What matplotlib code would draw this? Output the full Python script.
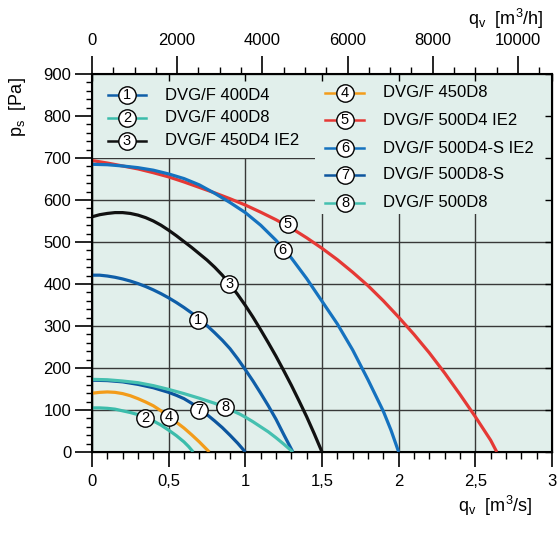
import matplotlib.pyplot as plt
from matplotlib.patches import Rectangle
from matplotlib.ticker import MultipleLocator

plt.rcParams['font.family'] = ['Liberation Sans', 'DejaVu Sans']
plt.rcParams['mathtext.fontset'] = 'custom'
plt.rcParams['mathtext.rm'] = 'Liberation Sans'
plt.rcParams['mathtext.it'] = 'Liberation Sans'

# fan curves, q in m3/s, p in Pa
names = ['DVG/F 400D4', 'DVG/F 400D8', 'DVG/F 450D4 IE2', 'DVG/F 450D8',
         'DVG/F 500D4 IE2', 'DVG/F 500D4-S IE2', 'DVG/F 500D8-S', 'DVG/F 500D8']

q1 = [0, 0.05, 0.1, 0.15, 0.2, 0.25, 0.3, 0.35, 0.4, 0.45, 0.5, 0.55, 0.6, 0.65, 0.7,
      0.75, 0.8, 0.85, 0.9, 0.95, 1.0, 1.05, 1.1, 1.15, 1.2, 1.25, 1.31]
p1 = [421, 421, 419, 416, 412, 407, 401, 394, 386, 377, 367, 356, 344, 331, 316,
      301, 284, 266, 246, 222, 196, 169, 140, 110, 78, 42, 0]

q2 = [0, 0.05, 0.1, 0.15, 0.2, 0.25, 0.3, 0.35, 0.4, 0.45, 0.5, 0.55, 0.6, 0.63, 0.66]
p2 = [105, 105, 104, 102, 98, 94, 89, 82, 74, 64, 52, 39, 24, 13, 0]

q3 = [0, 0.05, 0.1, 0.15, 0.2, 0.25, 0.3, 0.35, 0.4, 0.45, 0.5, 0.55, 0.6, 0.65, 0.7,
      0.75, 0.8, 0.85, 0.9, 0.95, 1.0, 1.05, 1.1, 1.15, 1.2, 1.25, 1.3, 1.35, 1.4,
      1.45, 1.5]
p3 = [560, 565, 568, 570, 570, 568, 564, 558, 550, 540, 528, 515, 501, 487, 472,
      457, 440, 421, 399, 375, 349, 321, 291, 260, 228, 194, 159, 122, 84,
      43, 0]

q4 = [0, 0.05, 0.1, 0.15, 0.2, 0.25, 0.3, 0.35, 0.4, 0.45, 0.5, 0.55, 0.6, 0.65, 0.7, 0.765]
p4 = [140, 142, 143, 142, 139, 134, 127, 119, 110, 98, 86, 71, 57, 41, 24, 0]

q5 = [0, 0.1, 0.2, 0.3, 0.4, 0.5, 0.6, 0.7, 0.8, 0.9, 1.0, 1.1, 1.2, 1.3, 1.4,
      1.5, 1.6, 1.7, 1.8, 1.9, 2.0, 2.1, 2.2, 2.3, 2.4, 2.5, 2.55, 2.6, 2.64]
p5 = [694, 688, 681, 674, 665, 655, 643, 630, 617, 603, 588, 571, 553, 533, 510,
      485, 458, 428, 396, 360, 321, 280, 236, 188, 137, 84, 56, 28, 0]

q6 = [0, 0.1, 0.2, 0.3, 0.4, 0.5, 0.6, 0.7, 0.8, 0.9, 1.0, 1.1, 1.2, 1.3, 1.4,
      1.5, 1.6, 1.7, 1.8, 1.9, 1.95, 2.0]
p6 = [685, 684, 681, 677, 671, 662, 651, 636, 616, 594, 570, 540, 504, 462, 413,
      359, 305, 243, 172, 97, 52, 0]

q7 = [0, 0.1, 0.2, 0.3, 0.4, 0.5, 0.55, 0.6, 0.65, 0.7, 0.75, 0.8, 0.85, 0.9, 0.95, 1.0]
p7 = [171, 170, 167, 161, 153, 142, 135, 127, 116, 103, 89, 74, 58, 40, 21, 0]

q8 = [0, 0.1, 0.2, 0.3, 0.4, 0.5, 0.6, 0.7, 0.8, 0.9, 0.965, 1.0, 1.05, 1.1, 1.15,
      1.2, 1.25, 1.31]
p8 = [173, 172, 169, 165, 158, 149, 139, 128, 116, 101, 90, 83, 72, 60, 48,
      34, 19, 0]

# circled number labels sitting on the curves
label_q = [0.694, 0.346, 0.896, 0.502, 1.277, 1.244, 0.698, 0.868]
label_p = [315, 80, 401, 84, 543, 480, 99, 108]

x_ticks = [0, 0.5, 1, 1.5, 2, 2.5, 3]
x_tick_labels = ['0', '0,5', '1', '1,5', '2', '2,5', '3']
top_ticks = [0, 2000, 4000, 6000, 8000, 10000]

curves = [(q1, p1), (q2, p2), (q3, p3), (q4, p4), (q5, p5), (q6, p6), (q7, p7), (q8, p8)]
colors = ['#0f5ea8', '#3bbcab', '#111111', '#f39c1a',
          '#e53935', '#1572bf', '#0c559e', '#45c0b0']
bg = '#e1efeb'

fig = plt.figure(figsize=(5.59, 5.33), dpi=100)
ax = fig.add_axes([92 / 559, 81 / 533, 460 / 559, 378 / 533])
ax.set_facecolor(bg)
ax.set_xlim(0, 3)
ax.set_ylim(0, 900)
ax.set_xticks(x_ticks)
ax.set_xticklabels(x_tick_labels)
ax.set_yticks(range(0, 901, 100))
ax.xaxis.set_minor_locator(MultipleLocator(0.1))
ax.yaxis.set_minor_locator(MultipleLocator(20))
ax.grid(True, which='major', color='#383838', lw=1)
ax.set_axisbelow(True)
ax.tick_params(axis='x', which='major', direction='out', length=11, width=1.2,
               labelsize=12, pad=5)
ax.tick_params(axis='x', which='minor', direction='out', length=5, width=1)
ax.tick_params(axis='y', which='major', direction='out', length=12, width=1.2,
               labelsize=12, pad=3)
ax.tick_params(axis='y', which='minor', direction='out', length=4, width=1)
for s in ax.spines.values():
    s.set_linewidth(1.5)

# background blocks behind the legend hide the grid there
ax.add_patch(Rectangle((0, 700 / 900), 0.485, 1 - 700 / 900, transform=ax.transAxes,
                       fc=bg, ec='none', zorder=1))
ax.add_patch(Rectangle((0.485, 567 / 900), 0.515, 1 - 567 / 900, transform=ax.transAxes,
                       fc=bg, ec='none', zorder=1))

for (q, p), c in zip(curves, colors):
    ax.plot(q, p, color=c, lw=2.3, zorder=3, solid_capstyle='butt',
            solid_joinstyle='round')

for i, (lq, lp) in enumerate(zip(label_q, label_p)):
    ax.plot(lq, lp, 'o', ms=12.5, mfc='white', mec='black', mew=1, zorder=5)
    ax.text(lq, lp, str(i + 1), ha='center', va='center', fontsize=10.5, zorder=6)

# legend, two columns
leg_left = [0.944, 0.884, 0.823]
leg_right = [0.950, 0.878, 0.804, 0.733, 0.659]
rows = [(0.035, 0.117, 0.076, 0.159, y) for y in leg_left] + \
       [(0.507, 0.591, 0.550, 0.633, y) for y in leg_right]
for i, (x0, x1, xc, xt, y) in enumerate(rows):
    ax.plot([x0, x1], [y, y], color=colors[i], lw=1.8, transform=ax.transAxes, zorder=4)
    ax.plot(xc, y, 'o', ms=12.5, mfc='white', mec='black', mew=1,
            transform=ax.transAxes, zorder=5)
    ax.text(xc, y, str(i + 1), ha='center', va='center', fontsize=10.5,
            transform=ax.transAxes, zorder=6)
    ax.text(xt, y, names[i], ha='left', va='center', fontsize=12,
            transform=ax.transAxes, zorder=6)

# inward ticks on right and top
axr = ax.twinx()
axr.set_ylim(0, 900)
axr.set_yticks(range(0, 901, 100))
axr.tick_params(axis='y', which='major', direction='in', length=5, width=1,
                labelright=False)
axr.xaxis.set_visible(True)
axr.tick_params(axis='x', which='major', direction='in', length=5, width=1,
                bottom=False, top=True, labelbottom=False, labeltop=False)
axr.tick_params(axis='x', which='minor', bottom=False, top=False)

# m3/h scale on top
axt = ax.twiny()
axt.set_xlim(0, 3 * 3600)
axt.set_xticks(top_ticks)
axt.xaxis.set_minor_locator(MultipleLocator(500))
axt.tick_params(axis='x', which='major', direction='out', length=13, width=1.2,
                labelsize=12, pad=6)
axt.tick_params(axis='x', which='minor', direction='out', length=5, width=1)

fig.text(18 / 559, 1 - 107 / 533, r'p$_\mathregular{s}$  [Pa]', rotation=90,
         ha='center', va='center', fontsize=13)
fig.text(532 / 559, 1 - 512 / 533, r'q$_\mathregular{v}$  [m$^\mathregular{3}$/s]',
         ha='right', va='baseline', fontsize=13)
fig.text(543 / 559, 1 - 25 / 533, r'q$_\mathregular{v}$  [m$^\mathregular{3}$/h]',
         ha='right', va='baseline', fontsize=13)

fig.savefig('out.png', dpi=100)
